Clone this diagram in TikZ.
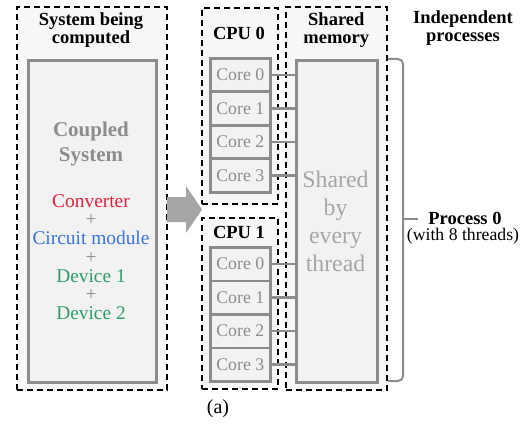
\documentclass[tikz,border=0pt]{standalone}
\usepackage{fontspec}
\setmainfont{LiberationSerif}[Extension=.ttf, UprightFont=*-Regular, BoldFont=*-Bold, ItalicFont=*-Italic, BoldItalicFont=*-BoldItalic]
\usepackage{xcolor}
\usetikzlibrary{arrows,calc}
\definecolor{boxgray}{HTML}{8C8C8C}
\definecolor{lightgraytext}{HTML}{A6A6A6}
\definecolor{arrowgray}{HTML}{A6A6A6}
\definecolor{convred}{HTML}{E3213D}
\definecolor{circblue}{HTML}{3A74D8}
\definecolor{devgreen}{HTML}{2E9D6A}

\begin{document}
\begin{tikzpicture}[x=1pt,y=-1pt,
  outerbox/.style={draw=black, line width=1.6pt, dash pattern=on 6pt off 4pt, fill=black!3, anchor=north west, inner sep=0pt},
  innerbox/.style={draw=boxgray, line width=2.6pt, fill=black!5, anchor=north west, inner sep=0pt},
  corebox/.style={draw=boxgray, line width=2.6pt, fill=black!5, minimum width=60pt, minimum height=33.5pt, inner sep=0pt, anchor=north west, text=boxgray, font=\fontsize{17.8}{20}\selectfont},
  link/.style={draw=boxgray, line width=2.4pt},
  title/.style={font=\fontsize{18.5}{18.5}\selectfont\bfseries, align=center}]
\useasboundingbox (0,0) rectangle (531,428);

\node[outerbox, minimum width=150pt, minimum height=383pt] (sys) at (16,6) {};
\node[outerbox, minimum width=76pt, minimum height=196pt] (cpu0) at (201,7) {};
\node[outerbox, minimum width=76pt, minimum height=171pt] (cpu1) at (201,217) {};
\node[outerbox, minimum width=101pt, minimum height=383pt] (mem) at (285,6) {};

\node[innerbox, minimum width=128pt, minimum height=322pt] (coupled) at (27,59) {};
\node[innerbox, minimum width=81pt, minimum height=322pt] (shared) at (295,59) {};

\node[title] (systitle) at (91,30) {System being\\computed};
\node[title] (cpu0title) at (239,33) {CPU 0};
\node[title] (cpu1title) at (239,232) {CPU 1};
\node[title] (memtitle) at ($(mem.north)+(0,24)$) {Shared\\memory};
\node[title] (indeptitle) at (463,28) {Independent\\processes};

\node[font=\fontsize{21}{25}\selectfont\bfseries, text=boxgray, align=center] (cstitle) at (91,143.5) {Coupled\\System};
\node[font=\fontsize{19.4}{18.7}\selectfont, text=boxgray, align=center] (parts) at (91,257) {%
  \textcolor{convred}{Converter}\\+\\\textcolor{circblue}{Circuit module}\\+\\%
  \textcolor{devgreen}{Device 1}\\+\\\textcolor{devgreen}{Device 2}};

\node[font=\fontsize{23.8}{28}\selectfont, text=lightgraytext, align=center] (sharedtext) at (335.5,221) {Shared\\by\\every\\thread};

\foreach \i in {0,...,3}{
  \node[corebox] (c0\i) at (209,{57+33.5*\i}) {Core \i};
  \node[corebox] (c1\i) at (209,{246+33.5*\i}) {Core \i};
  \draw[link] (c0\i.east) -- (c0\i.east -| shared.west);
  \draw[link] (c1\i.east) -- (c1\i.east -| shared.west);
}

\fill[arrowgray] (167,197) -- (186,197) -- (186,186) -- (202,209.5) -- (186,233) -- (186,222) -- (167,222) -- cycle;

\coordinate (brtop) at (388,59);
\coordinate (brbot) at (388,381);
\coordinate (brtip) at (418,219);
\draw[boxgray, line width=2pt, rounded corners=5pt] (brtop) -- ++(15,0) |- (brbot);
\draw[boxgray, line width=2pt] (brtip -| 403,0) -- (brtip);

\node[font=\fontsize{18.5}{20}\selectfont\bfseries] (proc) at (465,218) {Process 0};
\node[font=\fontsize{17.7}{20}\selectfont] (threads) at (463,236) {(with 8 threads)};

\node[font=\fontsize{20}{22}\selectfont] (caption) at (218,409) {(a)};
\end{tikzpicture}
\end{document}
